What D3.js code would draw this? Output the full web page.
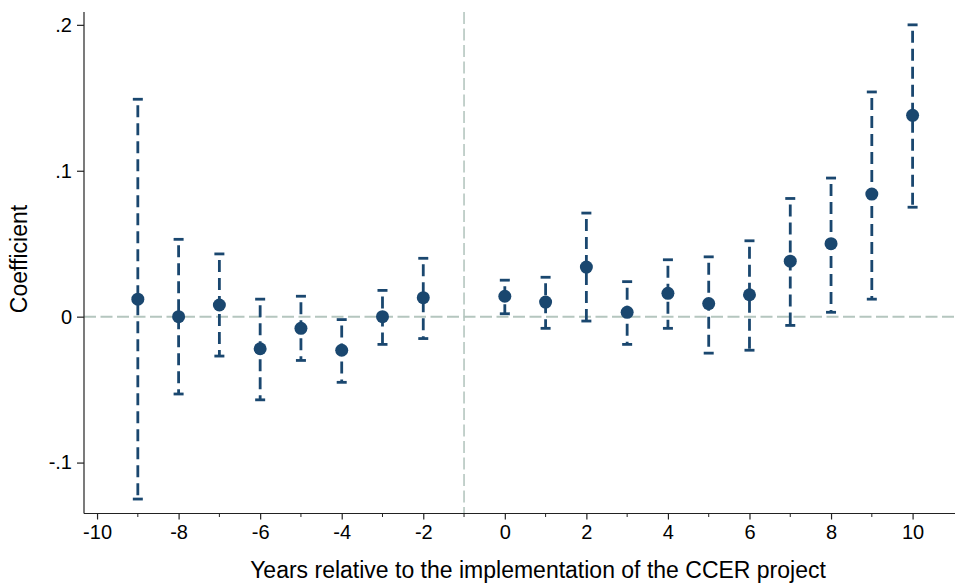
<!DOCTYPE html>
<html>
<head>
<meta charset="utf-8">
<script src="https://cdn.jsdelivr.net/npm/d3@7"></script>
<style>
  body { margin: 0; background: #fff; }
  svg { display: block; font-family: "Liberation Sans", Arial, sans-serif; }
</style>
</head>
<body>
<div id="chart-container"></div>
<script>
// data
let years = [-9, -8, -7, -6, -5, -4, -3, -2, 0, 1, 2, 3, 4, 5, 6, 7, 8, 9, 10];
let coefs = [0.012, 0.000, 0.008, -0.022, -0.008, -0.023, 0.000, 0.013, 0.014, 0.010, 0.034, 0.003, 0.016, 0.009, 0.015, 0.038, 0.050, 0.084, 0.138];
let ciLow = [-0.125, -0.053, -0.027, -0.057, -0.030, -0.045, -0.019, -0.015, 0.002, -0.008, -0.003, -0.019, -0.008, -0.025, -0.023, -0.006, 0.003, 0.012, 0.075];
let ciHigh = [0.149, 0.053, 0.043, 0.012, 0.014, -0.002, 0.018, 0.040, 0.025, 0.027, 0.071, 0.024, 0.039, 0.041, 0.052, 0.081, 0.095, 0.154, 0.200];
let xMajorTicks = [-10, -8, -6, -4, -2, 0, 2, 4, 6, 8, 10];
let xMinorTicks = [-9, -7, -5, -3, -1, 1, 3, 5, 7, 9];
let yTicks = [-0.1, 0, 0.1, 0.2];
let yTickLabels = ["-.1", "0", ".1", ".2"];
let eventYear = -1;

let w = 955;
let h = 587;
let navy = "#1a476f";
let refColor = "#b5c6bf";

let svg = d3.select("#chart-container")
  .append("svg")
  .attr("width", w)
  .attr("height", h)
  .attr("viewBox", "0 0 " + w + " " + h);

// scales
let plotLeft = 84, plotRight = 955, plotTop = 12, plotBottom = 513.5;
let x = d3.scaleLinear().domain([-10.32, 11.04]).range([plotLeft, plotRight]);
let y = d3.scaleLinear().domain([-0.1349, 0.2088]).range([plotBottom, plotTop]);

let rows = years.map((d, i) => ({year: d, b: coefs[i], lo: ciLow[i], hi: ciHigh[i]}));

// reference lines
svg.append("line")
  .attr("x1", plotLeft).attr("x2", plotRight)
  .attr("y1", y(0)).attr("y2", y(0))
  .attr("stroke", refColor)
  .attr("stroke-width", 2)
  .attr("stroke-dasharray", "12,4.5");
svg.append("line")
  .attr("x1", x(eventYear)).attr("x2", x(eventYear))
  .attr("y1", plotTop).attr("y2", plotBottom)
  .attr("stroke", refColor)
  .attr("stroke-width", 1.6)
  .attr("stroke-dasharray", "12,4.5");

// error bars
let bars = svg.append("g");
bars.selectAll("line.ci").data(rows).join("line")
  .attr("class", "ci")
  .attr("x1", d => x(d.year)).attr("x2", d => x(d.year))
  .attr("y1", d => y(d.hi) + 2).attr("y2", d => y(d.lo))
  .attr("stroke", navy)
  .attr("stroke-width", 2.8)
  .attr("stroke-dasharray", "12,6")
  .attr("stroke-dashoffset", -4);
bars.selectAll("line.cap-hi").data(rows).join("line")
  .attr("class", "cap-hi")
  .attr("x1", d => x(d.year) - 5).attr("x2", d => x(d.year) + 5)
  .attr("y1", d => y(d.hi)).attr("y2", d => y(d.hi))
  .attr("stroke", navy)
  .attr("stroke-width", 2.8);
bars.selectAll("line.cap-lo").data(rows).join("line")
  .attr("class", "cap-lo")
  .attr("x1", d => x(d.year) - 5).attr("x2", d => x(d.year) + 5)
  .attr("y1", d => y(d.lo)).attr("y2", d => y(d.lo))
  .attr("stroke", navy)
  .attr("stroke-width", 2.8);

// points
svg.append("g").selectAll("circle").data(rows).join("circle")
  .attr("cx", d => x(d.year))
  .attr("cy", d => y(d.b))
  .attr("r", 6.5)
  .attr("fill", navy);

// x axis
let xAxis = svg.append("g")
  .attr("transform", "translate(0," + plotBottom + ")")
  .call(d3.axisBottom(x).tickValues(xMajorTicks).tickSize(6).tickPadding(5).tickFormat(d => String(d)));
xAxis.select(".domain").attr("d", "M" + plotLeft + ",0H" + plotRight);
xAxis.selectAll("text").style("font-size", "20px").attr("fill", "#000");
svg.append("g")
  .attr("transform", "translate(0," + plotBottom + ")")
  .selectAll("line").data(xMinorTicks).join("line")
  .attr("x1", d => x(d)).attr("x2", d => x(d))
  .attr("y1", 0).attr("y2", 3.5)
  .attr("stroke", "#222");

// y axis
let yAxis = svg.append("g")
  .attr("transform", "translate(" + plotLeft + ",0)")
  .call(d3.axisLeft(y).tickValues(yTicks).tickSize(7).tickPadding(5)
    .tickFormat((d, i) => yTickLabels[i]));
yAxis.select(".domain").attr("d", "M0," + plotTop + "V" + plotBottom);
yAxis.selectAll("text").style("font-size", "20px").attr("fill", "#000");

svg.selectAll(".domain, .tick line").attr("stroke", "#222").attr("stroke-width", 1.2);

// axis titles
svg.append("text")
  .attr("x", 538)
  .attr("y", 578)
  .attr("text-anchor", "middle")
  .style("font-size", "23px")
  .text("Years relative to the implementation of the CCER project");
svg.append("text")
  .attr("transform", "translate(27,259) rotate(-90)")
  .attr("text-anchor", "middle")
  .style("font-size", "23px")
  .text("Coefficient");
</script>
</body>
</html>
